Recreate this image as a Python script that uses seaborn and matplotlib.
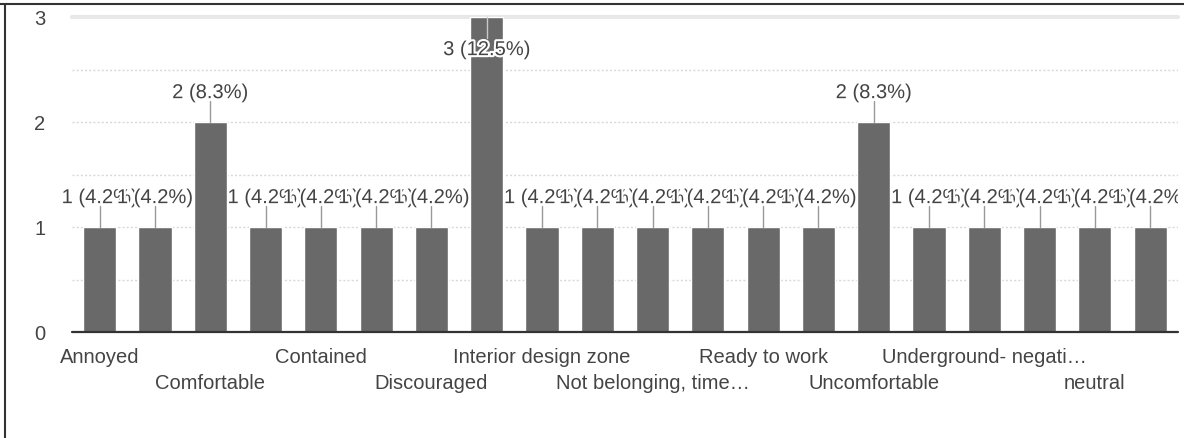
import numpy as np
import pandas as pd
import matplotlib
matplotlib.use("Agg")
import matplotlib.pyplot as plt
import matplotlib.patheffects as pe
from matplotlib.lines import Line2D
from matplotlib.transforms import Bbox, TransformedBbox
import seaborn as sns

# Response counts per answer (alphabetical order of answers)
values = [1, 1, 2, 1, 1, 1, 1, 3, 1, 1, 1, 1, 1, 1, 2, 1, 1, 1, 1, 1]
# Only every other answer gets a visible axis label
tick_labels = ["Annoyed", "", "Comfortable", "", "Contained", "", "Discouraged", "",
               "Interior design zone", "", "Not belonging, time\u2026", "",
               "Ready to work", "", "Uncomfortable", "", "Underground- negati\u2026", "",
               "neutral", ""]
y_ticks = [0, 1, 2, 3]

sns.set_theme(style="white")
plt.rcParams["font.family"] = ["Liberation Sans", "DejaVu Sans"]

BAR = "#696969"
TXT = "#444444"
FS = 14.5

total = sum(values)
df = pd.DataFrame({"pos": list(range(len(values))), "count": values})

fig = plt.figure(figsize=(11.84, 4.38), dpi=100)
ax = fig.add_axes([0.0608, 0.242, 0.934, 0.719])

sns.barplot(data=df, x="pos", y="count", color=BAR, saturation=1, width=0.6,
            ax=ax, zorder=3)

ymax = 3
ax.set_ylim(0, ymax)
ax.set_xlim(-0.5, len(values) - 0.5)

# Gridlines: dotted every half unit, solid band at the top
for g in np.arange(0.5, ymax, 0.5):
    ax.axhline(g, color="#d8d8d8", lw=1, ls=(0, (1.5, 1.5)), zorder=1)
ax.axhline(ymax, color="#e8e8e8", lw=3, zorder=1, clip_on=False)
ax.axhline(0, color="#333333", lw=1.6, zorder=4, clip_on=False)

for s in ax.spines.values():
    s.set_visible(False)

ax.set_yticks(y_ticks)
ax.set_yticklabels([str(t) for t in y_ticks], fontsize=FS, color=TXT)
ax.tick_params(axis="y", length=0, pad=19)
ax.set_xticks([])
ax.set_xlabel("")
ax.set_ylabel("")

# Category labels staggered over two rows
xt = ax.get_xaxis_transform()
shown = [i for i, t in enumerate(tick_labels) if t]
for k, i in enumerate(shown):
    yy = -0.08 if k % 2 == 0 else -0.162
    ax.text(i, yy, tick_labels[i], transform=xt, ha="center", va="center",
            fontsize=FS, color=TXT)

# Value annotations with leader stems; they are cut at the right plot edge
clip_box = TransformedBbox(Bbox([[-0.1, -0.1], [1.0, 1.1]]), ax.transAxes)
halo = [pe.withStroke(linewidth=3, foreground="white")]
for i, v in enumerate(values):
    label = f"{v} ({v / total * 100:.1f}%)"
    if v >= ymax:
        ax.plot([i, i], [v, v - 0.2], color="#c8c8c8", lw=1, zorder=5)
        ty = v - 0.31
    else:
        ax.plot([i, i], [v, v + 0.2], color="#999999", lw=1, zorder=5)
        ty = v + 0.28
    t = ax.text(i, ty, label, ha="center", va="center", fontsize=FS, color=TXT,
                path_effects=halo, zorder=6, clip_on=True)
    t.set_clip_box(clip_box)

# Outer frame lines (top and left)
fig.add_artist(Line2D([0, 1], [0.99, 0.99], transform=fig.transFigure,
                      color="#333333", lw=1.5))
fig.add_artist(Line2D([0.0046, 0.0046], [0, 0.99], transform=fig.transFigure,
                      color="#333333", lw=1.5))

fig.savefig("out.png", dpi=100, facecolor="white")
